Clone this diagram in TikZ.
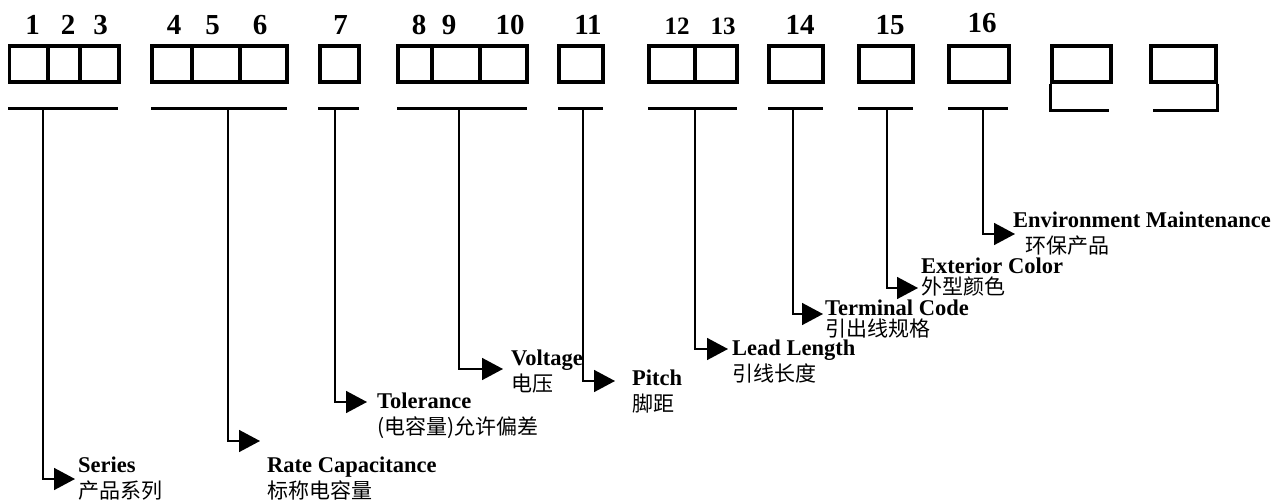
\documentclass[tikz,border=0pt]{standalone}
\usepackage{fontspec}
\setmainfont{Liberation Serif}
\newfontfamily\cjk{Noto Sans CJK SC}
\usetikzlibrary{arrows.meta}
\newcommand\zh[1]{{\cjk\mdseries\fontsize{21}{26}\selectfont #1}}
\begin{document}
\begin{tikzpicture}[x=1pt, y=-1pt,
    cell/.style={draw, line width=3.1pt, inner sep=0pt, minimum height=36pt},
    bar/.style={line width=3pt},
    num/.style={font=\fontsize{29}{29}\selectfont\bfseries, inner sep=0pt, anchor=base},
    lead/.style={-{Triangle[length=21pt,width=22pt]}, line width=1.6pt},
    lab/.style={font=\fontsize{22.5}{26}\selectfont\bfseries, align=left, inner sep=0pt, anchor=north west}
  ]
  \useasboundingbox (0,0) rectangle (1274,500);

  % code cells
  \foreach \n/\l/\r in {a1/9.5/48, a2/48/80, a3/80/119, b1/152/192, b2/192/240, b3/240/287,
      c1/320/359, d1/398/432, d2/432/480, d3/480/527, e1/559/603, f1/649/695, f2/695/737,
      g1/769/823, h1/859/913, i1/949/1009, j1/1052/1111, k1/1151/1216}
    \node[cell, minimum width={(\r-\l)*1pt}] (\n) at ({(\l+\r)/2},64) {};

  % position numbers
  \node[num] (n1) at (32.5,35) {1};
  \node[num] (n2) at (68,35) {2};
  \node[num] (n3) at (100.5,35) {3};
  \node[num] (n4) at (174,35) {4};
  \node[num] (n5) at (212.5,35) {5};
  \node[num] (n6) at (260,35) {6};
  \node[num] (n7) at (340.5,35) {7};
  \node[num] (n8) at (419,35) {8};
  \node[num] (n9) at (449,35) {9};
  \node[num] (n10) at (510,35) {10};
  \node[num] (n11) at (588,35) {11};
  \node[num, font=\fontsize{25}{25}\selectfont\bfseries] (n12) at (677,35) {12};
  \node[num, font=\fontsize{25}{25}\selectfont\bfseries] (n13) at (723,35) {13};
  \node[num] (n14) at (800,35) {14};
  \node[num] (n15) at (890,35) {15};
  \node[num] (n16) at (982,33) {16};

  % underlines
  \foreach \l/\r in {8/118, 151/287, 318/359, 397/527, 558/603, 648/737, 768/823, 858/913, 948/1008}
    \draw[bar] (\l,108.5) -- (\r,108.5);
  \draw[bar] (j1.south west) -- ++(0,26.5) -- ++(59,0);
  \draw[bar] (k1.south east) -- ++(0,26.5) -- ++(-65,0);

  \coordinate (u1) at (43,108.5);
  \coordinate (u2) at (228,108.5);
  \coordinate (u3) at (335,108.5);
  \coordinate (u4) at (459,108.5);
  \coordinate (u5) at (583,108.5);
  \coordinate (u6) at (695,108.5);
  \coordinate (u7) at (793,108.5);
  \coordinate (u8) at (887,108.5);
  \coordinate (u9) at (983,108.5);

  \coordinate (t1) at (75,479);
  \coordinate (t2) at (260,441);
  \coordinate (t3) at (367,402);
  \coordinate (t4) at (503,369);
  \coordinate (t5) at (615,381);
  \coordinate (t6) at (728,349);
  \coordinate (t7) at (823,314);
  \coordinate (t8) at (918,288);
  \coordinate (t9) at (1015,234);

  % labels
  \node[lab] (series) at (78,457) {Series\\\zh{产品系列}};
  \node[lab] (cap) at (267,457) {Rate Capacitance\\\zh{标称电容量}};
  \node[lab] (tol) at (377,393) {Tolerance\\\zh{(电容量)允许偏差}};
  \node[lab] (volt) at (511,350) {Voltage\\\zh{电压}};
  \node[lab] (pitch) at (632,370) {Pitch\\\zh{脚距}};
  \node[lab] (leadlen) at (732,340) {Lead Length\\\zh{引线长度}};
  \node[lab] (term) at (825,300) {Terminal Code\\[-5pt]\zh{引出线规格}};
  \node[lab] (color) at (921,258) {Exterior Color\\[-5pt]\zh{外型颜色}};
  \node[lab] (env) at (1013,212) {Environment Maintenance\\\hspace*{12pt}\zh{环保产品}};

  % leaders
  \draw[lead] (u1) |- (t1);
  \draw[lead] (u2) |- (t2);
  \draw[lead] (u3) |- (t3);
  \draw[lead] (u4) |- (t4);
  \draw[lead] (u5) |- (t5);
  \draw[lead] (u6) |- (t6);
  \draw[lead] (u7) |- (t7);
  \draw[lead] (u8) |- (t8);
  \draw[lead] (u9) |- (t9);
\end{tikzpicture}
\end{document}
